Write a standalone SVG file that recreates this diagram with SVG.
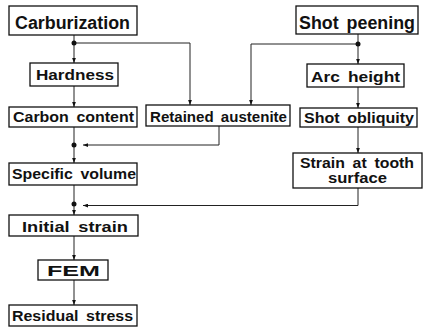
<svg xmlns="http://www.w3.org/2000/svg" width="423" height="329" viewBox="0 0 423 329">
<defs>
<marker id="ah" viewBox="0 0 8 6" refX="8" refY="3" markerWidth="5" markerHeight="4" orient="auto" markerUnits="userSpaceOnUse">
<path d="M0,0 L8,3 L0,6 Z" fill="#111"/>
</marker>
</defs>
<style>
.box{fill:#fff;stroke:#111;stroke-width:1.3}
.t{font-family:"Liberation Sans",Arial,sans-serif;font-weight:bold;fill:#111;word-spacing:3px}
.c{fill:none;stroke:#222;stroke-width:1}
.d{fill:#111}
</style>
<rect width="423" height="329" fill="#fff"/>
<g id="connectors">
<path class="c" d="M74,35 V63" marker-end="url(#ah)"/>
<path class="c" d="M74,43 H190 V105" marker-end="url(#ah)"/>
<path class="c" d="M74,86 V107" marker-end="url(#ah)"/>
<path class="c" d="M74,127 V163" marker-end="url(#ah)"/>
<path class="c" d="M219,126 V145 H83" marker-end="url(#ah)"/>
<path class="c" d="M74,185 V215" marker-end="url(#ah)"/>
<path class="c" d="M358,34 V64" marker-end="url(#ah)"/>
<path class="c" d="M358,44 H251 V105" marker-end="url(#ah)"/>
<path class="c" d="M358,87 V108" marker-end="url(#ah)"/>
<path class="c" d="M358,127 V153" marker-end="url(#ah)"/>
<path class="c" d="M358,188 V205.5 H83" marker-end="url(#ah)"/>
<path class="c" d="M74,236 V260" marker-end="url(#ah)"/>
<path class="c" d="M74,280 V305" marker-end="url(#ah)"/>
<circle class="d" cx="74" cy="43" r="2.5"/>
<circle class="d" cx="358" cy="44" r="2.5"/>
<circle class="d" cx="74" cy="145" r="2.5"/>
<circle class="d" cx="74" cy="204" r="2.5"/>
</g>
<g id="carburization">
<rect class="box" x="9" y="6" width="128" height="29"/>
<text class="t" x="15" y="28.5" font-size="18" textLength="115" lengthAdjust="spacingAndGlyphs">Carburization</text>
</g>
<g id="shot-peening">
<rect class="box" x="296" y="6" width="122" height="28"/>
<text class="t" x="299" y="28.5" font-size="18" textLength="116" lengthAdjust="spacingAndGlyphs">Shot peening</text>
</g>
<g id="hardness">
<rect class="box" x="30" y="63" width="88" height="23"/>
<text class="t" x="36" y="79.5" font-size="15" textLength="78" lengthAdjust="spacingAndGlyphs">Hardness</text>
</g>
<g id="arc-height">
<rect class="box" x="307" y="64" width="97" height="23"/>
<text class="t" x="311" y="81.5" font-size="15.5" textLength="89" lengthAdjust="spacingAndGlyphs">Arc height</text>
</g>
<g id="carbon-content">
<rect class="box" x="9" y="107" width="128" height="20"/>
<text class="t" x="13" y="122" font-size="15" textLength="121" lengthAdjust="spacingAndGlyphs">Carbon content</text>
</g>
<g id="retained-austenite">
<rect class="box" x="146" y="105" width="144" height="21"/>
<text class="t" x="150" y="121.5" font-size="15" textLength="137" lengthAdjust="spacingAndGlyphs">Retained austenite</text>
</g>
<g id="shot-obliquity">
<rect class="box" x="300" y="108" width="117" height="19"/>
<text class="t" x="304" y="122.5" font-size="15" textLength="110" lengthAdjust="spacingAndGlyphs">Shot obliquity</text>
</g>
<g id="strain-at-tooth-surface">
<rect class="box" x="293" y="153" width="129" height="35"/>
<text class="t" x="300" y="167.5" font-size="14" textLength="114" lengthAdjust="spacingAndGlyphs">Strain at tooth</text>
<text class="t" x="328" y="183" font-size="14" textLength="59" lengthAdjust="spacingAndGlyphs">surface</text>
</g>
<g id="specific-volume">
<rect class="box" x="9" y="163" width="128" height="22"/>
<text class="t" x="12" y="178.5" font-size="15" textLength="124" lengthAdjust="spacingAndGlyphs">Specific volume</text>
</g>
<g id="initial-strain">
<rect class="box" x="9" y="215" width="129" height="21"/>
<text class="t" x="22" y="231.5" font-size="15.5" textLength="106" lengthAdjust="spacingAndGlyphs">Initial strain</text>
</g>
<g id="fem">
<rect class="box" x="38" y="260" width="70" height="20"/>
<text class="t" x="47" y="276" font-size="15.5" textLength="53" lengthAdjust="spacingAndGlyphs">FEM</text>
</g>
<g id="residual-stress">
<rect class="box" x="9" y="305" width="128" height="21"/>
<text class="t" x="12" y="321" font-size="15" textLength="121" lengthAdjust="spacingAndGlyphs">Residual stress</text>
</g>
</svg>
